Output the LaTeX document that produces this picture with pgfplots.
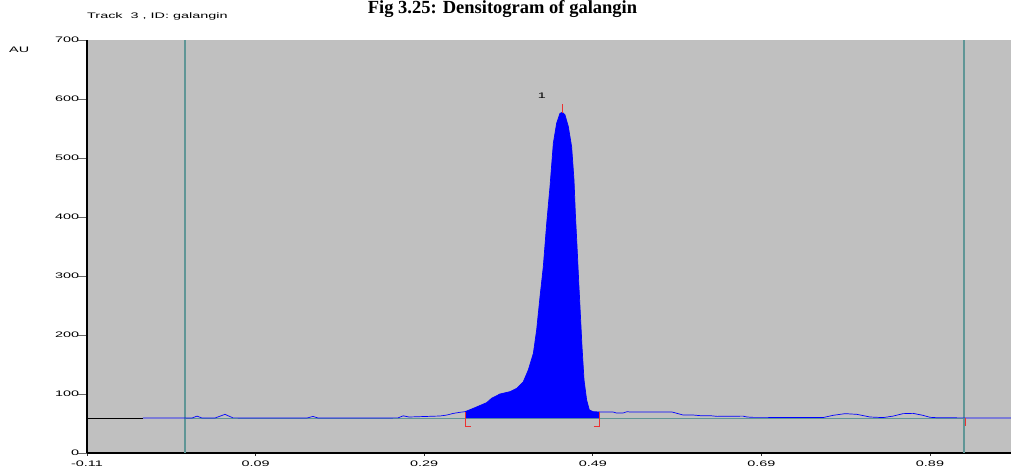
\documentclass[border=0pt]{standalone}
\usepackage{fontspec}
\setmainfont{Liberation Serif}
\setsansfont{Liberation Sans}
\usepackage{graphicx}
\usepackage{pgfplots}
\pgfplotsset{compat=1.18}
\definecolor{bgGrey}{RGB}{192,192,192}
\definecolor{clrTeal}{RGB}{96,150,150}
\definecolor{clrRed}{RGB}{235,50,50}
\definecolor{clrBlue}{RGB}{0,0,255}
\newcommand{\sw}[1]{\scalebox{1.8}[1]{#1}}
\newcommand{\lblfont}{\sffamily\fontsize{8}{9}\selectfont}

\begin{document}
\begin{tikzpicture}[x=1pt,y=1pt]
\begin{axis}[
  at={(87pt,17pt)}, anchor=south west,
  scale only axis, width=924pt, height=413pt,
  xmin=-0.11, xmax=0.9861, ymin=0, ymax=700,
  axis x line*=bottom, axis y line*=left,
  axis line style={-, black, line width=1.4pt},
  axis background/.style={fill=bgGrey},
  xtick={-0.11,0.09,0.29,0.49,0.69,0.89},
  xticklabels={\sw{-0.11},\sw{0.09},\sw{0.29},\sw{0.49},\sw{0.69},\sw{0.89}},
  ytick={0,100,200,300,400,500,600,700},
  yticklabels={\sw{0},\sw{100},\sw{200},\sw{300},\sw{400},\sw{500},\sw{600},\sw{700}},
  tick align=outside,
  xtick style={black!80, line width=0.8pt, /pgfplots/major tick length=3pt},
  ytick style={black!60, line width=0.8pt, /pgfplots/major tick length=9pt},
  tick label style={font=\lblfont, text=black},
]
% start of the scan, drawn black
\addplot[black, line width=0.7pt] coordinates {(-0.11,59.3) (-0.0436,59.3)};
% integration baseline and track limits
\addplot[clrTeal, line width=0.9pt] coordinates {(0.0063,59.3) (0.930,59.3)};
\addplot[clrTeal, line width=1.8pt] coordinates {(0.0063,0) (0.0063,700)};
\addplot[clrTeal, line width=1.8pt] coordinates {(0.930,0) (0.930,700)};
% peak area
\addplot[fill=clrBlue, draw=none] coordinates {
  (0.3384,59.3) (0.3384,70) (0.3483,75.7) (0.3641,85.3) (0.3700,92.7)
  (0.3799,100) (0.3918,104) (0.3997,109.6) (0.4076,120.9) (0.4135,140.7)
  (0.4195,169) (0.4234,208.5) (0.4274,265) (0.4313,315.8) (0.4353,389)
  (0.4392,451) (0.4432,525) (0.4471,558.8) (0.4511,575.7) (0.4539,577.4)
  (0.4570,573) (0.4610,553) (0.4649,519) (0.4677,462.7) (0.4693,406)
  (0.4713,349.7) (0.4732,293) (0.4752,236.7) (0.4772,180) (0.4796,123.7)
  (0.4827,89.8) (0.4859,72.9) (0.4906,70) (0.4985,69.5) (0.4985,59.3)};
% signal
\addplot[clrBlue, line width=0.7pt] coordinates {
  (-0.0436,59.3) (0.0063,59.3) (0.0146,59.3) (0.0205,62.5) (0.0264,59.3)
  (0.0418,59.3) (0.0537,65.5) (0.0632,59.5) (0.1510,59.3) (0.1581,62)
  (0.1640,59.3) (0.2589,59.5) (0.2650,63) (0.2720,61) (0.2850,61.6)
  (0.3087,62.7) (0.3171,64.4) (0.3242,67) (0.3325,69) (0.3384,70)
  (0.3483,75.7) (0.3641,85.3) (0.3700,92.7) (0.3799,100) (0.3918,104)
  (0.3997,109.6) (0.4076,120.9) (0.4135,140.7) (0.4195,169) (0.4234,208.5)
  (0.4274,265) (0.4313,315.8) (0.4353,389) (0.4392,451) (0.4432,525)
  (0.4471,558.8) (0.4511,575.7) (0.4539,577.4) (0.4570,573) (0.4610,553)
  (0.4649,519) (0.4677,462.7) (0.4693,406) (0.4713,349.7) (0.4732,293)
  (0.4752,236.7) (0.4772,180) (0.4796,123.7) (0.4827,89.8) (0.4859,72.9)
  (0.4906,70) (0.4985,69.5) (0.5140,69.5) (0.5180,67.8) (0.5260,67.8)
  (0.5306,70) (0.5341,69.5) (0.5840,69.5) (0.5970,64.4) (0.6089,64.4)
  (0.6172,63.3) (0.6290,63.3) (0.6373,62.1) (0.6682,62.5) (0.6729,61)
  (0.6800,60.4) (0.7358,60.2) (0.7631,60) (0.7749,63.8) (0.7892,66.7)
  (0.8034,65.5) (0.8188,61) (0.8343,60) (0.8461,62.5) (0.8580,66.7)
  (0.8698,67.2) (0.8817,63.8) (0.8900,60.5) (0.8983,59.8) (0.9292,59.5)
  (0.9861,59.3)};
% peak markers
\addplot[clrRed, line width=1pt] coordinates {(0.4539,577) (0.4539,591)};
\addplot[clrRed, line width=1pt] coordinates {(0.3455,44.6) (0.3384,44.6) (0.3384,70)};
\addplot[clrRed, line width=1pt] coordinates {(0.4914,44.6) (0.4985,44.6) (0.4985,69.5)};
\addplot[clrRed, line width=1pt] coordinates {(0.9327,60) (0.9327,46)};
\node[font=\lblfont, inner sep=0] at (axis cs:0.4297,605) {\sw{1}};
\end{axis}
\node[anchor=base, inner sep=0, font=\bfseries\fontsize{18.5}{20}\selectfont]
  at (502.5pt,456pt) {Fig 3.25: Densitogram of galangin};
\node[anchor=base west, inner sep=0, font=\lblfont]
  at (87pt,451.3pt) {\sw{Track\ \ 3 , ID: galangin}};
\node[anchor=base west, inner sep=0, font=\lblfont]
  at (9pt,417.3pt) {\sw{AU}};
\pgfresetboundingbox
\useasboundingbox (0,0) rectangle (1011pt,470pt);
\end{tikzpicture}
\end{document}
